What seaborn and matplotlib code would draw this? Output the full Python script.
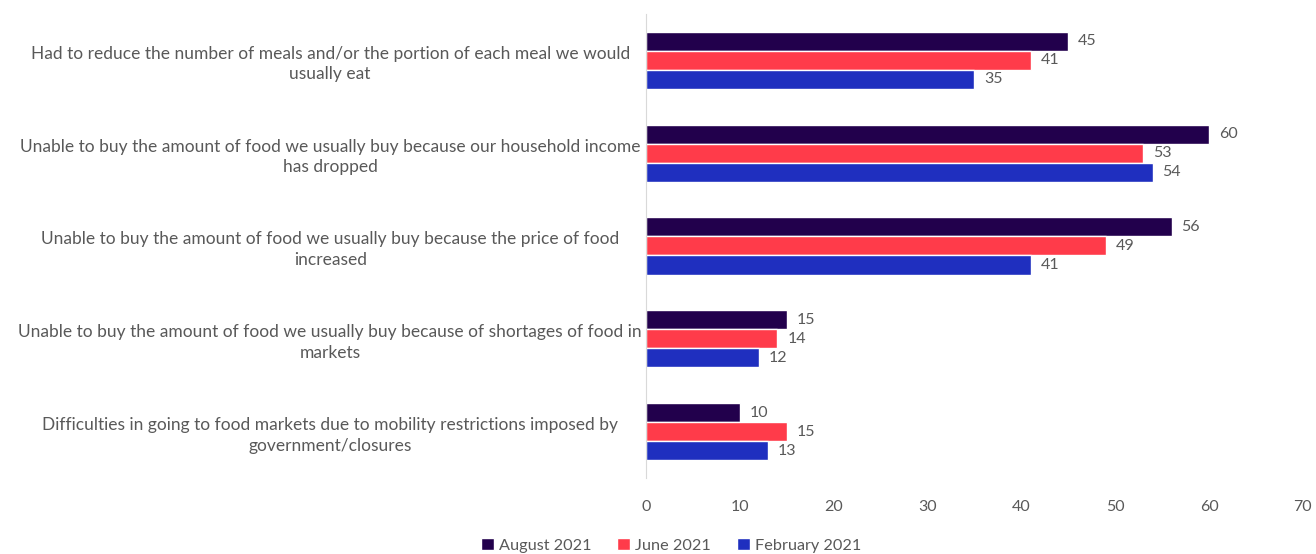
import matplotlib
matplotlib.use("Agg")
import matplotlib.pyplot as plt
import seaborn as sns
import pandas as pd

categories = [
    "Had to reduce the number of meals and/or the portion of each meal we would\nusually eat",
    "Unable to buy the amount of food we usually buy because our household income\nhas dropped",
    "Unable to buy the amount of food we usually buy because the price of food\nincreased",
    "Unable to buy the amount of food we usually buy because of shortages of food in\nmarkets",
    "Difficulties in going to food markets due to mobility restrictions imposed by\ngovernment/closures",
]
series = ["August 2021", "June 2021", "February 2021"]
august = [45, 60, 56, 15, 10]
june = [41, 53, 49, 14, 15]
february = [35, 54, 41, 12, 13]
colors = ["#22004C", "#FF3B4A", "#1F2FBF"]

rows = []
for s, vals in zip(series, [august, june, february]):
    for c, v in zip(categories, vals):
        rows.append({"category": c, "series": s, "value": v})
df = pd.DataFrame(rows)

sns.set_style("white")
plt.rcParams["font.family"] = ["Lato", "DejaVu Sans"]
text_color = "#595959"
fs = 11.5

fig = plt.figure(figsize=(13.16, 5.54), dpi=100)
ax = fig.add_axes([0.491, 0.137, 0.499, 0.838])
sns.barplot(data=df, y="category", x="value", hue="series", orient="h",
            palette=colors, width=0.615, ax=ax, saturation=1, legend=True)

for cont in ax.containers:
    ax.bar_label(cont, padding=7, color=text_color, fontsize=fs)

ax.set_xlim(0, 70)
ax.set_xticks(range(0, 71, 10))
ax.set_ylim(4.5, -0.5)
ax.set_xlabel("")
ax.set_ylabel("")
for sp in ["top", "right", "bottom"]:
    ax.spines[sp].set_visible(False)
ax.spines["left"].set_color("#D9D9D9")
ax.tick_params(axis="x", length=0, colors=text_color, labelsize=fs, pad=16)
ax.tick_params(axis="y", length=0, colors=text_color, labelsize=12.5)
for lbl in ax.get_yticklabels():
    lbl.set_horizontalalignment("center")
    lbl.set_multialignment("center")
    lbl.set_linespacing(1.35)
ax.yaxis.set_tick_params(pad=227.5)

handles, labels = ax.get_legend_handles_labels()
ax.legend(handles, labels, loc="center", bbox_to_anchor=(0.510, 0.0155),
          bbox_transform=fig.transFigure, ncol=3, frameon=False,
          fontsize=11.7, labelcolor=text_color, handlelength=0.8, handleheight=0.8,
          handletextpad=0.3, columnspacing=1.6, borderaxespad=0)
fig.savefig("out.png", dpi=100)
